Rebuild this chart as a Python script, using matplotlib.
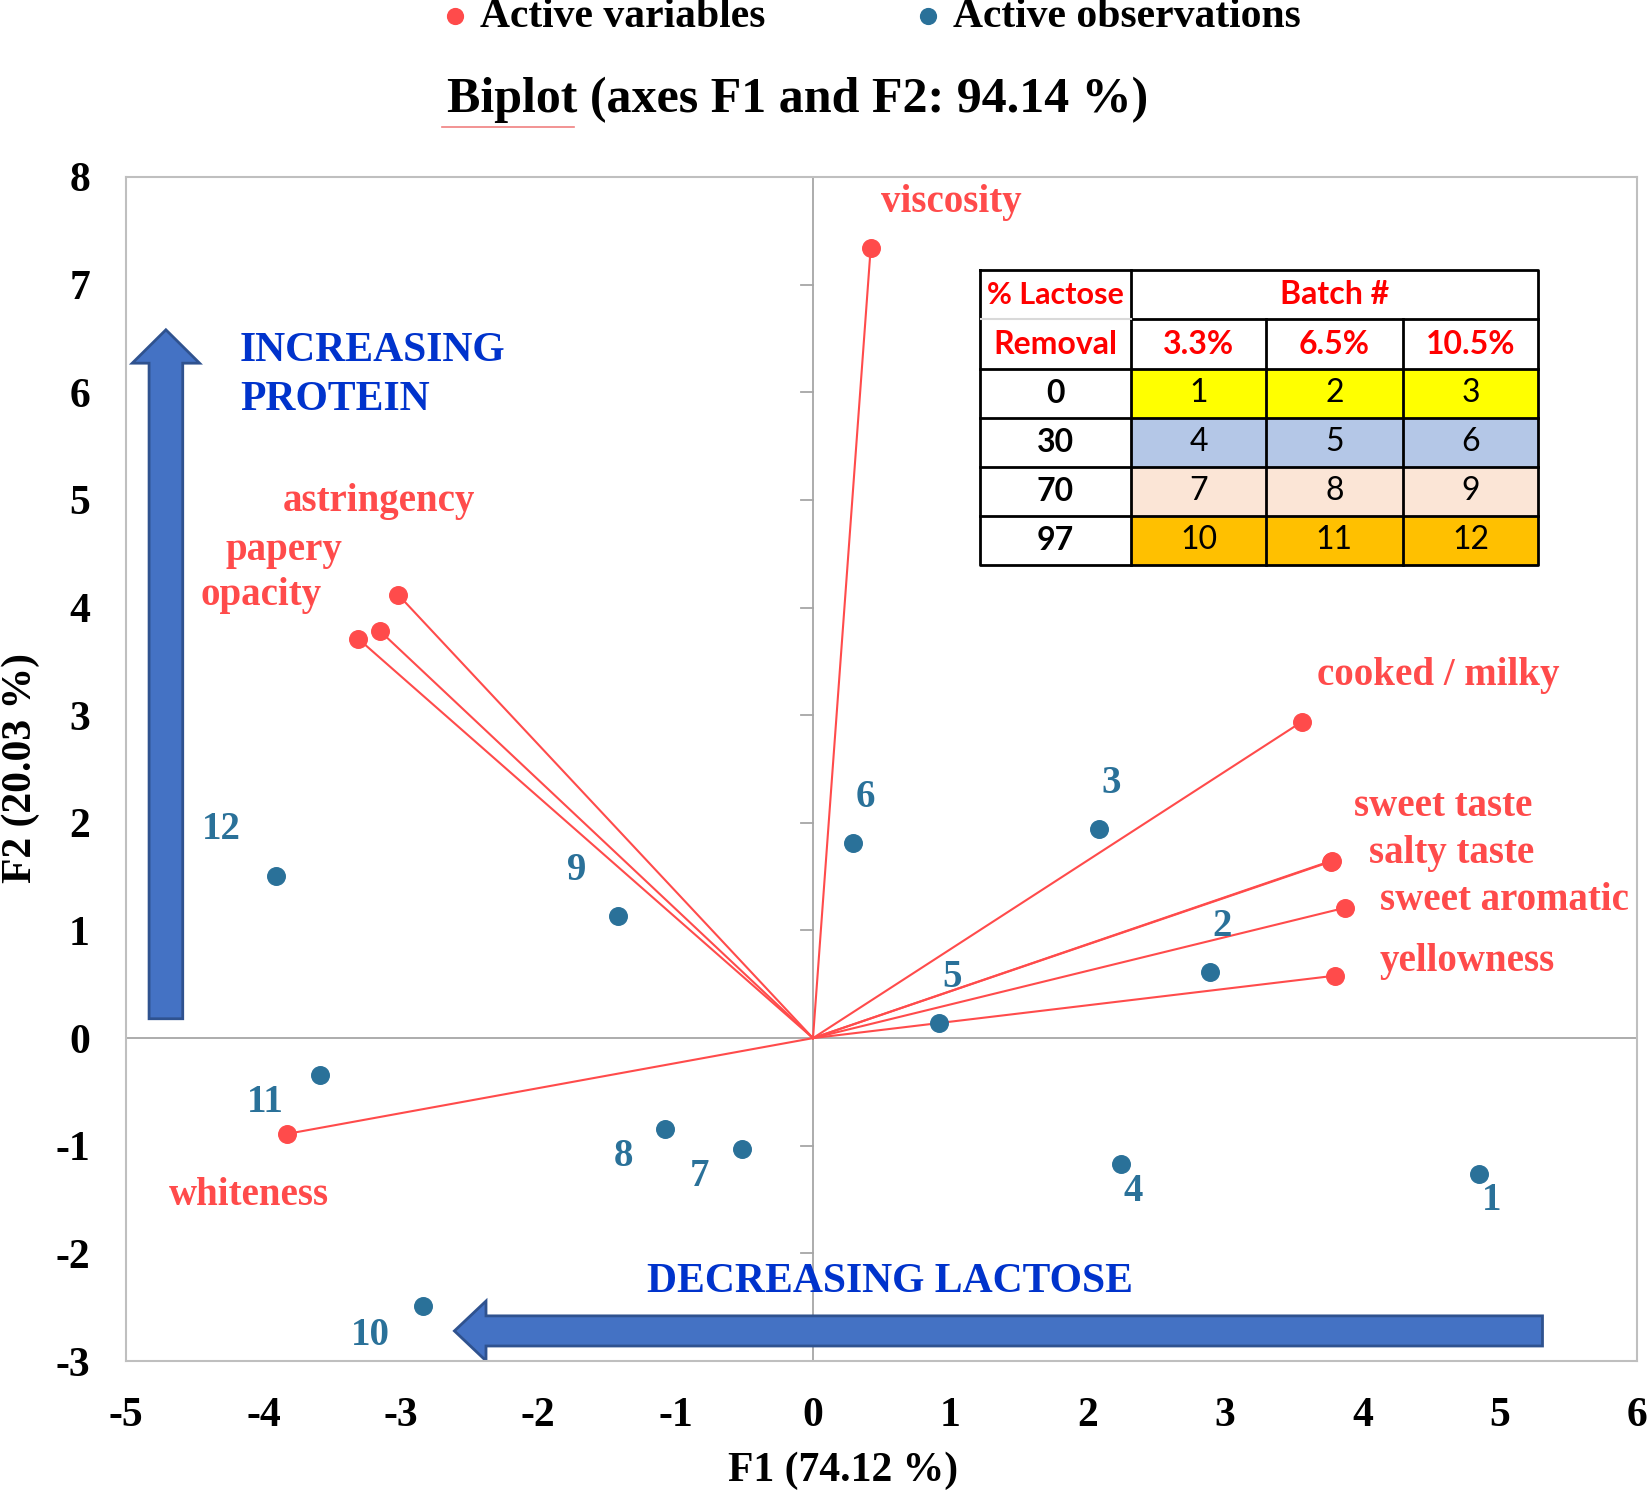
import matplotlib
matplotlib.use("Agg")
import matplotlib.pyplot as plt
from matplotlib.patches import Rectangle

plt.rcParams['font.family'] = ['Liberation Serif', 'DejaVu Serif']
plt.rcParams['axes.unicode_minus'] = False

# active variables (F1, F2)
var_names = ["viscosity", "astringency", "papery", "opacity", "cooked / milky",
             "sweet taste", "salty taste", "sweet aromatic", "yellowness", "whiteness"]
var_f1 = [0.42, -3.02, -3.15, -3.31, 3.56, 3.78, 3.77, 3.87, 3.80, -3.83]
var_f2 = [7.34, 4.12, 3.78, 3.71, 2.94, 1.65, 1.64, 1.21, 0.58, -0.89]

# active observations (batches)
obs_names = ["1", "2", "3", "4", "5", "6", "7", "8", "9", "10", "11", "12"]
obs_f1 = [4.85, 2.89, 2.08, 2.24, 0.92, 0.29, -0.52, -1.08, -1.42, -2.84, -3.59, -3.91]
obs_f2 = [-1.26, 0.61, 1.94, -1.17, 0.14, 1.81, -1.03, -0.84, 1.13, -2.49, -0.34, 1.51]

# batch table
removal = ["0", "30", "70", "97"]
lactose = ["3.3%", "6.5%", "10.5%"]
batch = [[1, 2, 3], [4, 5, 6], [7, 8, 9], [10, 11, 12]]

xticks = [-5, -4, -3, -2, -1, 0, 1, 2, 3, 4, 5, 6]
yticks = [-3, -2, -1, 0, 1, 2, 3, 4, 5, 6, 7, 8]

RED = '#FF4B4B'
TEAL = '#2A7199'

# label offsets in points (dx, dy)
var_off = [(58, 33), (-14, 67), (-69, 58), (-70, 31), (98, 33),
           (80, 39), (87, 6), (115, 5), (95, 10), (-27, -44)]
obs_off = [(9, -19), (9, 33), (9, 33), (9, -20), (9, 33), (9, 33),
           (-30, -20), (-30, -20), (-30, 33), (-38, -21), (-39, -20), (-39, 33)]

fig = plt.figure(figsize=(16.5, 14.97), dpi=100)
ax = fig.add_axes([0.0764, 0.0908, 0.9159, 0.7910])
ax.set_xlim(-5, 6)
ax.set_ylim(-3, 8)

ax.axhline(0, color='#A6A6A6', lw=1.3, zorder=1)
ax.axvline(0, color='#A6A6A6', lw=1.3, zorder=1)
for y in yticks:
    if y not in (0, -3, 8):
        ax.plot([-0.085, 0], [y, y], color='#A6A6A6', lw=1.3, zorder=1)

# arrows
ax.arrow(-4.71, 0.18, 0, 6.40, width=0.245, head_width=0.49, head_length=0.31,
         length_includes_head=True, fc='#4472C4', ec='#2F528F', lw=2, zorder=2)
ax.arrow(5.31, -2.72, -7.92, 0, width=0.28, head_width=0.555, head_length=0.23,
         length_includes_head=True, fc='#4472C4', ec='#2F528F', lw=2, zorder=2)
ax.text(-4.17, 6.16, "INCREASING\nPROTEIN", color='#0033CC', fontsize=30,
        fontweight='bold', ha='left', va='center', linespacing=1.38)
ax.text(0.56, -2.27, "DECREASING LACTOSE", color='#0033CC', fontsize=30,
        fontweight='bold', ha='center', va='center')

for x, y in zip(var_f1, var_f2):
    ax.plot([0, x], [0, y], color=RED, lw=1.5, zorder=3)
sv = ax.scatter(var_f1, var_f2, s=160, color=RED, zorder=4, label="Active variables")
so = ax.scatter(obs_f1, obs_f2, s=160, color=TEAL, zorder=4, label="Active observations")

for n, x, y, o in zip(var_names, var_f1, var_f2, var_off):
    ax.annotate(n, (x, y), xytext=o, textcoords='offset points', ha='center',
                va='center', color=RED, fontsize=28, fontweight='bold')
for n, x, y, o in zip(obs_names, obs_f1, obs_f2, obs_off):
    ax.annotate(n, (x, y), xytext=o, textcoords='offset points', ha='center',
                va='center', color=TEAL, fontsize=28, fontweight='bold')

ax.set_xticks(xticks)
ax.set_yticks(yticks)
ax.tick_params(length=0, labelsize=30, pad=26)
for lab in ax.get_xticklabels() + ax.get_yticklabels():
    lab.set_fontweight('bold')
for s in ax.spines.values():
    s.set_color('#BFBFBF')
    s.set_linewidth(1.5)

fig.text(0.511, 0.0175, "F1 (74.12 %)", fontsize=30, fontweight='bold',
         ha='center', va='center')
fig.text(0.0125, 0.487, "F2 (20.03 %)", fontsize=30, fontweight='bold',
         ha='center', va='center', rotation=90)

fig.text(0.4837, 0.933, "Biplot (axes F1 and F2: 94.14 %)", fontsize=36,
         fontweight='bold', ha='center', va='center')
# spell-check underline under "Biplot"
fig.add_artist(plt.Line2D([0.268, 0.348], [0.915, 0.915], color='#F08080', lw=1.2))

fig.legend(handles=[sv, so], loc='center', bbox_to_anchor=(0.528, 0.989), ncol=2,
           frameon=False, prop={'weight': 'bold', 'size': 30},
           handlelength=0.6, handletextpad=0.3, columnspacing=3.6, markerscale=0.9)

# batch table as inset
tb = fig.add_axes([0.5937, 0.6226, 0.3387, 0.1968])
tb.set_xlim(0, 1)
tb.set_ylim(6, 0)
tb.axis('off')
cols = [0, 0.2712, 0.5122, 0.7571, 1.0]
fills = ['#FFFF00', '#B4C7E7', '#FBE5D6', '#FFC000']
TF = ['Lato', 'DejaVu Sans']
FS = 23
for r in range(4):
    for c in range(3):
        tb.add_patch(Rectangle((cols[c + 1], r + 2), cols[c + 2] - cols[c + 1], 1,
                               fc=fills[r], ec='none'))
        tb.text((cols[c + 1] + cols[c + 2]) / 2, r + 2.5, str(batch[r][c]),
                ha='center', va='center', fontsize=FS, family=TF)
    tb.text(cols[1] / 2, r + 2.5, removal[r], ha='center', va='center',
            fontsize=FS, fontweight='bold', family=TF)
for c in range(3):
    tb.text((cols[c + 1] + cols[c + 2]) / 2, 1.5, lactose[c], ha='center', va='center',
            fontsize=FS, fontweight='bold', color='#FF0000', family=TF)
tb.text(cols[1] / 2, 0.5, "% Lactose", ha='center', va='center', fontsize=FS - 1,
        fontweight='bold', color='#FF0000', family=TF)
tb.text(cols[1] / 2, 1.5, "Removal", ha='center', va='center', fontsize=FS,
        fontweight='bold', color='#FF0000', family=TF)
tb.text((cols[1] + 1) / 2, 0.5, "Batch #", ha='center', va='center', fontsize=FS,
        fontweight='bold', color='#FF0000', family=TF)
# grid lines
kw = dict(color='black', lw=2, clip_on=False)
tb.plot([0, 1, 1, 0, 0], [0, 0, 6, 6, 0], **kw)
tb.plot([cols[1], cols[1]], [0, 6], **kw)
for c in (2, 3):
    tb.plot([cols[c], cols[c]], [1, 6], **kw)
tb.plot([cols[1], 1], [1, 1], **kw)
for r in range(2, 6):
    tb.plot([0, 1], [r, r], **kw)
tb.plot([0, cols[1]], [1, 1], color='#D9D9D9', lw=1.5)

fig.savefig("out.png", dpi=100)
